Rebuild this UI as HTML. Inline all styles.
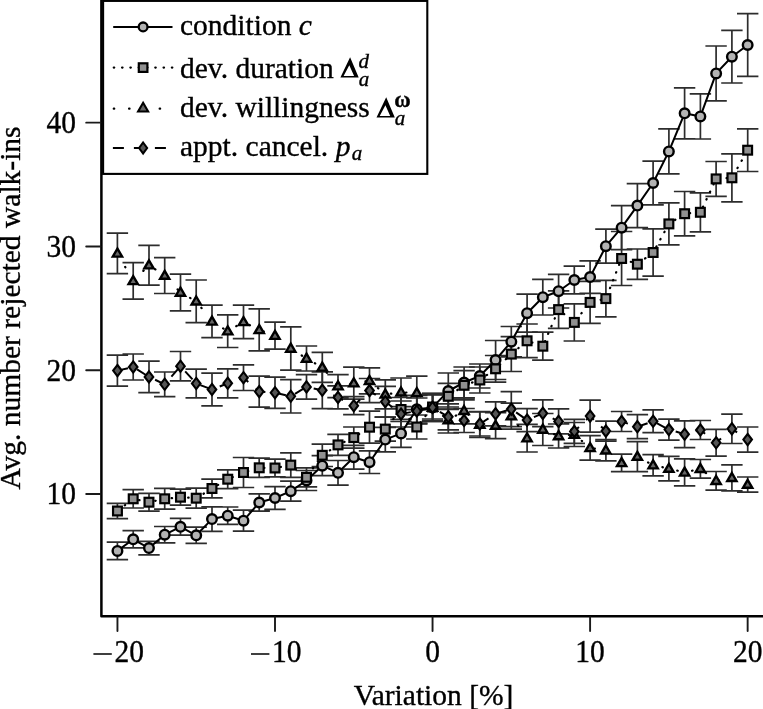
<!DOCTYPE html>
<html><head><meta charset="utf-8"><style>
html,body{margin:0;padding:0;background:#fff;}
svg{display:block;}
text{font-family:"Liberation Serif",serif;font-size:29.5px;fill:#000;stroke:#000;stroke-width:0.35px;}
</style></head><body>
<svg width="763" height="709" viewBox="0 0 763 709">
<defs><filter id="b" filterUnits="userSpaceOnUse" x="0" y="0" width="763" height="709" color-interpolation-filters="sRGB"><feGaussianBlur stdDeviation="0.5"/></filter></defs>
<rect width="763" height="709" fill="#fff"/>
<g filter="url(#b)">
<path d="M117.4 542.2V559.6M106.7 542.2H128.1M106.7 559.6H128.1M133.2 530.7V547.9M122.5 530.7H143.9M122.5 547.9H143.9M149.0 541.4V554.8M138.3 541.4H159.7M138.3 554.8H159.7M164.7 526.5V542.9M154.0 526.5H175.4M154.0 542.9H175.4M180.5 518.4V535.2M169.8 518.4H191.2M169.8 535.2H191.2M196.2 527.2V543.4M185.5 527.2H206.9M185.5 543.4H206.9M212.0 506.9V531.3M201.3 506.9H222.7M201.3 531.3H222.7M227.7 507.0V524.4M217.0 507.0H238.4M217.0 524.4H238.4M243.5 510.2V531.2M232.8 510.2H254.2M232.8 531.2H254.2M259.2 493.9V511.1M248.5 493.9H269.9M248.5 511.1H269.9M275.0 486.7V509.3M264.3 486.7H285.7M264.3 509.3H285.7M290.8 481.2V501.2M280.1 481.2H301.5M280.1 501.2H301.5M306.5 470.5V490.5M295.8 470.5H317.2M295.8 490.5H317.2M322.3 455.7V475.7M311.6 455.7H333.0M311.6 475.7H333.0M338.0 460.5V485.1M327.3 460.5H348.7M327.3 485.1H348.7M353.8 445.3V469.1M343.1 445.3H364.5M343.1 469.1H364.5M369.5 450.9V473.5M358.8 450.9H380.2M358.8 473.5H380.2M385.3 427.3V451.9M374.6 427.3H396.0M374.6 451.9H396.0M401.0 419.4V447.4M390.3 419.4H411.7M390.3 447.4H411.7M416.8 395.3V423.3M406.1 395.3H427.5M406.1 423.3H427.5M432.6 393.4V421.4M421.9 393.4H443.2M421.9 421.4H443.2M448.3 373.0V409.0M437.6 373.0H459.0M437.6 409.0H459.0M464.1 367.0V398.0M453.4 367.0H474.8M453.4 398.0H474.8M479.8 364.0V388.0M469.1 364.0H490.5M469.1 388.0H490.5M495.6 340.5V379.5M484.9 340.5H506.3M484.9 379.5H506.3M511.3 326.5V356.9M500.6 326.5H522.0M500.6 356.9H522.0M527.1 294.2V332.2M516.4 294.2H537.8M516.4 332.2H537.8M542.8 279.4V315.0M532.1 279.4H553.5M532.1 315.0H553.5M558.6 274.4V308.0M547.9 274.4H569.3M547.9 308.0H569.3M574.3 266.2V293.8M563.6 266.2H585.0M563.6 293.8H585.0M590.1 260.8V293.4M579.4 260.8H600.8M579.4 293.4H600.8M605.9 229.2V263.2M595.2 229.2H616.6M595.2 263.2H616.6M621.6 205.7V249.7M610.9 205.7H632.3M610.9 249.7H632.3M637.4 183.6V227.6M626.7 183.6H648.1M626.7 227.6H648.1M653.1 161.2V204.8M642.4 161.2H663.8M642.4 204.8H663.8M668.9 128.9V173.9M658.2 128.9H679.6M658.2 173.9H679.6M684.6 87.8V138.8M673.9 87.8H695.3M673.9 138.8H695.3M700.4 93.8V139.0M689.7 93.8H711.1M689.7 139.0H711.1M716.1 46.0V100.8M705.4 46.0H726.8M705.4 100.8H726.8M731.9 30.4V83.0M721.2 30.4H742.6M721.2 83.0H742.6M747.7 13.7V76.3M737.0 13.7H758.4M737.0 76.3H758.4" stroke="#2d2d2d" stroke-width="1.7" fill="none"/>
<path d="M117.4 503.4V518.6M106.7 503.4H128.1M106.7 518.6H128.1M133.2 489.6V508.0M122.5 489.6H143.9M122.5 508.0H143.9M149.0 493.3V511.1M138.3 493.3H159.7M138.3 511.1H159.7M164.7 488.4V509.2M154.0 488.4H175.4M154.0 509.2H175.4M180.5 489.2V505.2M169.8 489.2H191.2M169.8 505.2H191.2M196.2 488.2V508.2M185.5 488.2H206.9M185.5 508.2H206.9M212.0 479.1V497.9M201.3 479.1H222.7M201.3 497.9H222.7M227.7 469.8V488.6M217.0 469.8H238.4M217.0 488.6H238.4M243.5 457.5V487.5M232.8 457.5H254.2M232.8 487.5H254.2M259.2 458.2V477.4M248.5 458.2H269.9M248.5 477.4H269.9M275.0 459.1V476.9M264.3 459.1H285.7M264.3 476.9H285.7M290.8 452.8V477.4M280.1 452.8H301.5M280.1 477.4H301.5M306.5 467.8V486.8M295.8 467.8H317.2M295.8 486.8H317.2M322.3 444.1V466.5M311.6 444.1H333.0M311.6 466.5H333.0M338.0 434.4V455.4M327.3 434.4H348.7M327.3 455.4H348.7M353.8 427.0V448.2M343.1 427.0H364.5M343.1 448.2H364.5M369.5 411.2V443.2M358.8 411.2H380.2M358.8 443.2H380.2M385.3 417.1V441.1M374.6 417.1H396.0M374.6 441.1H396.0M401.0 397.5V421.5M390.3 397.5H411.7M390.3 421.5H411.7M416.8 415.0V439.0M406.1 415.0H427.5M406.1 439.0H427.5M432.6 395.0V419.0M421.9 395.0H443.2M421.9 419.0H443.2M448.3 383.3V409.3M437.6 383.3H459.0M437.6 409.3H459.0M464.1 370.7V399.9M453.4 370.7H474.8M453.4 399.9H474.8M479.8 367.0V393.0M469.1 367.0H490.5M469.1 393.0H490.5M495.6 355.5V382.1M484.9 355.5H506.3M484.9 382.1H506.3M511.3 336.7V371.5M500.6 336.7H522.0M500.6 371.5H522.0M527.1 324.0V357.6M516.4 324.0H537.8M516.4 357.6H537.8M542.8 332.2V360.2M532.1 332.2H553.5M532.1 360.2H553.5M558.6 290.9V328.3M547.9 290.9H569.3M547.9 328.3H569.3M574.3 303.8V341.0M563.6 303.8H585.0M563.6 341.0H585.0M590.1 281.4V323.4M579.4 281.4H600.8M579.4 323.4H600.8M605.9 280.4V316.8M595.2 280.4H616.6M595.2 316.8H616.6M621.6 231.5V285.5M610.9 231.5H632.3M610.9 285.5H632.3M637.4 249.0V279.4M626.7 249.0H648.1M626.7 279.4H648.1M653.1 228.9V276.1M642.4 228.9H663.8M642.4 276.1H663.8M668.9 202.9V244.9M658.2 202.9H679.6M658.2 244.9H679.6M684.6 191.5V235.9M673.9 191.5H695.3M673.9 235.9H695.3M700.4 192.8V231.8M689.7 192.8H711.1M689.7 231.8H711.1M716.1 161.5V196.3M705.4 161.5H726.8M705.4 196.3H726.8M731.9 153.8V201.8M721.2 153.8H742.6M721.2 201.8H742.6M747.7 128.9V171.5M737.0 128.9H758.4M737.0 171.5H758.4" stroke="#2d2d2d" stroke-width="1.7" fill="none"/>
<path d="M117.4 233.2V273.6M106.7 233.2H128.1M106.7 273.6H128.1M133.2 262.6V299.2M122.5 262.6H143.9M122.5 299.2H143.9M149.0 245.3V285.1M138.3 245.3H159.7M138.3 285.1H159.7M164.7 257.7V293.5M154.0 257.7H175.4M154.0 293.5H175.4M180.5 274.1V310.9M169.8 274.1H191.2M169.8 310.9H191.2M196.2 280.0V322.6M185.5 280.0H206.9M185.5 322.6H206.9M212.0 305.2V337.6M201.3 305.2H222.7M201.3 337.6H222.7M227.7 314.9V347.5M217.0 314.9H238.4M217.0 347.5H238.4M243.5 305.2V338.6M232.8 305.2H254.2M232.8 338.6H254.2M259.2 308.9V350.9M248.5 308.9H269.9M248.5 350.9H269.9M275.0 322.2V349.2M264.3 322.2H285.7M264.3 349.2H285.7M290.8 326.8V370.2M280.1 326.8H301.5M280.1 370.2H301.5M306.5 346.0V371.0M295.8 346.0H317.2M295.8 371.0H317.2M322.3 352.4V382.4M311.6 352.4H333.0M311.6 382.4H333.0M338.0 374.7V397.7M327.3 374.7H348.7M327.3 397.7H348.7M353.8 367.2V399.2M343.1 367.2H364.5M343.1 399.2H364.5M369.5 367.8V393.8M358.8 367.8H380.2M358.8 393.8H380.2M385.3 379.9V408.9M374.6 379.9H396.0M374.6 408.9H396.0M401.0 378.0V406.6M390.3 378.0H411.7M390.3 406.6H411.7M416.8 376.1V409.7M406.1 376.1H427.5M406.1 409.7H427.5M432.6 393.5V421.5M421.9 393.5H443.2M421.9 421.5H443.2M448.3 407.0V433.0M437.6 407.0H459.0M437.6 433.0H459.0M464.1 397.8V423.8M453.4 397.8H474.8M453.4 423.8H474.8M479.8 411.5V437.5M469.1 411.5H490.5M469.1 437.5H490.5M495.6 412.6V438.6M484.9 412.6H506.3M484.9 438.6H506.3M511.3 403.2V429.2M500.6 403.2H522.0M500.6 429.2H522.0M527.1 424.4V452.0M516.4 424.4H537.8M516.4 452.0H537.8M542.8 413.5V445.5M532.1 413.5H553.5M532.1 445.5H553.5M558.6 424.0V448.0M547.9 424.0H569.3M547.9 448.0H569.3M574.3 422.5V446.5M563.6 422.5H585.0M563.6 446.5H585.0M590.1 435.6V460.2M579.4 435.6H600.8M579.4 460.2H600.8M605.9 439.7V460.9M595.2 439.7H616.6M595.2 460.9H616.6M621.6 454.2V471.6M610.9 454.2H632.3M610.9 471.6H632.3M637.4 441.6V471.6M626.7 441.6H648.1M626.7 471.6H648.1M653.1 454.6V475.8M642.4 454.6H663.8M642.4 475.8H663.8M668.9 456.4V480.8M658.2 456.4H679.6M658.2 480.8H679.6M684.6 458.9V485.9M673.9 458.9H695.3M673.9 485.9H695.3M700.4 459.5V478.1M689.7 459.5H711.1M689.7 478.1H711.1M716.1 471.5V490.1M705.4 471.5H726.8M705.4 490.1H726.8M731.9 464.8V490.8M721.2 464.8H742.6M721.2 490.8H742.6M747.7 477.0V492.2M737.0 477.0H758.4M737.0 492.2H758.4" stroke="#2d2d2d" stroke-width="1.7" fill="none"/>
<path d="M117.4 355.1V386.1M106.7 355.1H128.1M106.7 386.1H128.1M133.2 354.0V380.0M122.5 354.0H143.9M122.5 380.0H143.9M149.0 361.1V392.7M138.3 361.1H159.7M138.3 392.7H159.7M164.7 372.0V396.6M154.0 372.0H175.4M154.0 396.6H175.4M180.5 351.5V380.9M169.8 351.5H191.2M169.8 380.9H191.2M196.2 369.2V397.8M185.5 369.2H206.9M185.5 397.8H206.9M212.0 373.1V405.9M201.3 373.1H222.7M201.3 405.9H222.7M227.7 368.8V397.8M217.0 368.8H238.4M217.0 397.8H238.4M243.5 364.9V390.5M232.8 364.9H254.2M232.8 390.5H254.2M259.2 376.1V407.1M248.5 376.1H269.9M248.5 407.1H269.9M275.0 377.1V408.3M264.3 377.1H285.7M264.3 408.3H285.7M290.8 379.6V413.0M280.1 379.6H301.5M280.1 413.0H301.5M306.5 374.7V399.1M295.8 374.7H317.2M295.8 399.1H317.2M322.3 371.9V408.7M311.6 371.9H333.0M311.6 408.7H333.0M338.0 385.9V408.9M327.3 385.9H348.7M327.3 408.9H348.7M353.8 396.7V414.7M343.1 396.7H364.5M343.1 414.7H364.5M369.5 378.5V402.7M358.8 378.5H380.2M358.8 402.7H380.2M385.3 386.4V417.0M374.6 386.4H396.0M374.6 417.0H396.0M401.0 401.0V427.0M390.3 401.0H411.7M390.3 427.0H411.7M416.8 398.0V424.0M406.1 398.0H427.5M406.1 424.0H427.5M432.6 394.5V420.5M421.9 394.5H443.2M421.9 420.5H443.2M448.3 403.8V429.8M437.6 403.8H459.0M437.6 429.8H459.0M464.1 408.5V432.5M453.4 408.5H474.8M453.4 432.5H474.8M479.8 412.0V436.0M469.1 412.0H490.5M469.1 436.0H490.5M495.6 401.8V425.8M484.9 401.8H506.3M484.9 425.8H506.3M511.3 391.6V426.6M500.6 391.6H522.0M500.6 426.6H522.0M527.1 408.6V431.6M516.4 408.6H537.8M516.4 431.6H537.8M542.8 399.9V426.7M532.1 399.9H553.5M532.1 426.7H553.5M558.6 408.9V433.9M547.9 408.9H569.3M547.9 433.9H569.3M574.3 419.4V443.4M563.6 419.4H585.0M563.6 443.4H585.0M590.1 400.1V432.1M579.4 400.1H600.8M579.4 432.1H600.8M605.9 421.1V441.1M595.2 421.1H616.6M595.2 441.1H616.6M621.6 411.5V431.5M610.9 411.5H632.3M610.9 431.5H632.3M637.4 414.7V438.7M626.7 414.7H648.1M626.7 438.7H648.1M653.1 409.9V432.7M642.4 409.9H663.8M642.4 432.7H663.8M668.9 419.1V440.1M658.2 419.1H679.6M658.2 440.1H679.6M684.6 420.8V447.6M673.9 420.8H695.3M673.9 447.6H695.3M700.4 420.5V439.5M689.7 420.5H711.1M689.7 439.5H711.1M716.1 429.4V456.2M705.4 429.4H726.8M705.4 456.2H726.8M731.9 414.1V443.5M721.2 414.1H742.6M721.2 443.5H742.6M747.7 427.0V452.2M737.0 427.0H758.4M737.0 452.2H758.4" stroke="#2d2d2d" stroke-width="1.7" fill="none"/>
<polyline points="117.4,550.9 133.2,539.3 149.0,548.1 164.7,534.7 180.5,526.8 196.2,535.3 212.0,519.1 227.7,515.7 243.5,520.7 259.2,502.5 275.0,498.0 290.8,491.2 306.5,480.5 322.3,465.7 338.0,472.8 353.8,457.2 369.5,462.2 385.3,439.6 401.0,433.4 416.8,409.3 432.6,407.4 448.3,391.0 464.1,382.5 479.8,376.0 495.6,360.0 511.3,341.7 527.1,313.2 542.8,297.2 558.6,291.2 574.3,280.0 590.1,277.1 605.9,246.2 621.6,227.7 637.4,205.6 653.1,183.0 668.9,151.4 684.6,113.3 700.4,116.4 716.1,73.4 731.9,56.7 747.7,45.0" fill="none" stroke="#000" stroke-width="2.0" stroke-linecap="butt" stroke-linejoin="round"/>
<circle cx="117.45" cy="550.90" r="4.8" fill="#b3b3b3" stroke="#000" stroke-width="2.4"/>
<circle cx="133.20" cy="539.30" r="4.8" fill="#b3b3b3" stroke="#000" stroke-width="2.4"/>
<circle cx="148.96" cy="548.10" r="4.8" fill="#b3b3b3" stroke="#000" stroke-width="2.4"/>
<circle cx="164.71" cy="534.70" r="4.8" fill="#b3b3b3" stroke="#000" stroke-width="2.4"/>
<circle cx="180.47" cy="526.80" r="4.8" fill="#b3b3b3" stroke="#000" stroke-width="2.4"/>
<circle cx="196.22" cy="535.30" r="4.8" fill="#b3b3b3" stroke="#000" stroke-width="2.4"/>
<circle cx="211.98" cy="519.10" r="4.8" fill="#b3b3b3" stroke="#000" stroke-width="2.4"/>
<circle cx="227.74" cy="515.70" r="4.8" fill="#b3b3b3" stroke="#000" stroke-width="2.4"/>
<circle cx="243.49" cy="520.70" r="4.8" fill="#b3b3b3" stroke="#000" stroke-width="2.4"/>
<circle cx="259.25" cy="502.50" r="4.8" fill="#b3b3b3" stroke="#000" stroke-width="2.4"/>
<circle cx="275.00" cy="498.00" r="4.8" fill="#b3b3b3" stroke="#000" stroke-width="2.4"/>
<circle cx="290.75" cy="491.20" r="4.8" fill="#b3b3b3" stroke="#000" stroke-width="2.4"/>
<circle cx="306.51" cy="480.50" r="4.8" fill="#b3b3b3" stroke="#000" stroke-width="2.4"/>
<circle cx="322.26" cy="465.70" r="4.8" fill="#b3b3b3" stroke="#000" stroke-width="2.4"/>
<circle cx="338.02" cy="472.80" r="4.8" fill="#b3b3b3" stroke="#000" stroke-width="2.4"/>
<circle cx="353.77" cy="457.20" r="4.8" fill="#b3b3b3" stroke="#000" stroke-width="2.4"/>
<circle cx="369.53" cy="462.20" r="4.8" fill="#b3b3b3" stroke="#000" stroke-width="2.4"/>
<circle cx="385.29" cy="439.60" r="4.8" fill="#b3b3b3" stroke="#000" stroke-width="2.4"/>
<circle cx="401.04" cy="433.40" r="4.8" fill="#b3b3b3" stroke="#000" stroke-width="2.4"/>
<circle cx="416.80" cy="409.30" r="4.8" fill="#b3b3b3" stroke="#000" stroke-width="2.4"/>
<circle cx="432.55" cy="407.40" r="4.8" fill="#b3b3b3" stroke="#000" stroke-width="2.4"/>
<circle cx="448.31" cy="391.00" r="4.8" fill="#b3b3b3" stroke="#000" stroke-width="2.4"/>
<circle cx="464.06" cy="382.50" r="4.8" fill="#b3b3b3" stroke="#000" stroke-width="2.4"/>
<circle cx="479.81" cy="376.00" r="4.8" fill="#b3b3b3" stroke="#000" stroke-width="2.4"/>
<circle cx="495.57" cy="360.00" r="4.8" fill="#b3b3b3" stroke="#000" stroke-width="2.4"/>
<circle cx="511.33" cy="341.70" r="4.8" fill="#b3b3b3" stroke="#000" stroke-width="2.4"/>
<circle cx="527.08" cy="313.20" r="4.8" fill="#b3b3b3" stroke="#000" stroke-width="2.4"/>
<circle cx="542.84" cy="297.20" r="4.8" fill="#b3b3b3" stroke="#000" stroke-width="2.4"/>
<circle cx="558.59" cy="291.20" r="4.8" fill="#b3b3b3" stroke="#000" stroke-width="2.4"/>
<circle cx="574.35" cy="280.00" r="4.8" fill="#b3b3b3" stroke="#000" stroke-width="2.4"/>
<circle cx="590.10" cy="277.10" r="4.8" fill="#b3b3b3" stroke="#000" stroke-width="2.4"/>
<circle cx="605.86" cy="246.20" r="4.8" fill="#b3b3b3" stroke="#000" stroke-width="2.4"/>
<circle cx="621.61" cy="227.70" r="4.8" fill="#b3b3b3" stroke="#000" stroke-width="2.4"/>
<circle cx="637.37" cy="205.60" r="4.8" fill="#b3b3b3" stroke="#000" stroke-width="2.4"/>
<circle cx="653.12" cy="183.00" r="4.8" fill="#b3b3b3" stroke="#000" stroke-width="2.4"/>
<circle cx="668.88" cy="151.40" r="4.8" fill="#b3b3b3" stroke="#000" stroke-width="2.4"/>
<circle cx="684.63" cy="113.30" r="4.8" fill="#b3b3b3" stroke="#000" stroke-width="2.4"/>
<circle cx="700.38" cy="116.40" r="4.8" fill="#b3b3b3" stroke="#000" stroke-width="2.4"/>
<circle cx="716.14" cy="73.40" r="4.8" fill="#b3b3b3" stroke="#000" stroke-width="2.4"/>
<circle cx="731.89" cy="56.70" r="4.8" fill="#b3b3b3" stroke="#000" stroke-width="2.4"/>
<circle cx="747.65" cy="45.00" r="4.8" fill="#b3b3b3" stroke="#000" stroke-width="2.4"/>
<polyline points="117.4,511.0 133.2,498.8 149.0,502.2 164.7,498.8 180.5,497.2 196.2,498.2 212.0,488.5 227.7,479.2 243.5,472.5 259.2,467.8 275.0,468.0 290.8,465.1 306.5,477.3 322.3,455.3 338.0,444.9 353.8,437.6 369.5,427.2 385.3,429.1 401.0,409.5 416.8,427.0 432.6,407.0 448.3,396.3 464.1,385.3 479.8,380.0 495.6,368.8 511.3,354.1 527.1,340.8 542.8,346.2 558.6,309.6 574.3,322.4 590.1,302.4 605.9,298.6 621.6,258.5 637.4,264.2 653.1,252.5 668.9,223.9 684.6,213.7 700.4,212.3 716.1,178.9 731.9,177.8 747.7,150.2" fill="none" stroke="#000" stroke-width="2.2" stroke-linecap="round" stroke-linejoin="round" stroke-dasharray="0.5 7.81" stroke-dashoffset="7.36"/>
<rect x="113.05" y="506.60" width="8.8" height="8.8" fill="#909090" stroke="#000" stroke-width="2.2"/>
<rect x="128.80" y="494.40" width="8.8" height="8.8" fill="#909090" stroke="#000" stroke-width="2.2"/>
<rect x="144.56" y="497.80" width="8.8" height="8.8" fill="#909090" stroke="#000" stroke-width="2.2"/>
<rect x="160.31" y="494.40" width="8.8" height="8.8" fill="#909090" stroke="#000" stroke-width="2.2"/>
<rect x="176.07" y="492.80" width="8.8" height="8.8" fill="#909090" stroke="#000" stroke-width="2.2"/>
<rect x="191.82" y="493.80" width="8.8" height="8.8" fill="#909090" stroke="#000" stroke-width="2.2"/>
<rect x="207.58" y="484.10" width="8.8" height="8.8" fill="#909090" stroke="#000" stroke-width="2.2"/>
<rect x="223.34" y="474.80" width="8.8" height="8.8" fill="#909090" stroke="#000" stroke-width="2.2"/>
<rect x="239.09" y="468.10" width="8.8" height="8.8" fill="#909090" stroke="#000" stroke-width="2.2"/>
<rect x="254.84" y="463.40" width="8.8" height="8.8" fill="#909090" stroke="#000" stroke-width="2.2"/>
<rect x="270.60" y="463.60" width="8.8" height="8.8" fill="#909090" stroke="#000" stroke-width="2.2"/>
<rect x="286.36" y="460.70" width="8.8" height="8.8" fill="#909090" stroke="#000" stroke-width="2.2"/>
<rect x="302.11" y="472.90" width="8.8" height="8.8" fill="#909090" stroke="#000" stroke-width="2.2"/>
<rect x="317.87" y="450.90" width="8.8" height="8.8" fill="#909090" stroke="#000" stroke-width="2.2"/>
<rect x="333.62" y="440.50" width="8.8" height="8.8" fill="#909090" stroke="#000" stroke-width="2.2"/>
<rect x="349.38" y="433.20" width="8.8" height="8.8" fill="#909090" stroke="#000" stroke-width="2.2"/>
<rect x="365.13" y="422.80" width="8.8" height="8.8" fill="#909090" stroke="#000" stroke-width="2.2"/>
<rect x="380.89" y="424.70" width="8.8" height="8.8" fill="#909090" stroke="#000" stroke-width="2.2"/>
<rect x="396.64" y="405.10" width="8.8" height="8.8" fill="#909090" stroke="#000" stroke-width="2.2"/>
<rect x="412.40" y="422.60" width="8.8" height="8.8" fill="#909090" stroke="#000" stroke-width="2.2"/>
<rect x="428.15" y="402.60" width="8.8" height="8.8" fill="#909090" stroke="#000" stroke-width="2.2"/>
<rect x="443.91" y="391.90" width="8.8" height="8.8" fill="#909090" stroke="#000" stroke-width="2.2"/>
<rect x="459.66" y="380.90" width="8.8" height="8.8" fill="#909090" stroke="#000" stroke-width="2.2"/>
<rect x="475.42" y="375.60" width="8.8" height="8.8" fill="#909090" stroke="#000" stroke-width="2.2"/>
<rect x="491.17" y="364.40" width="8.8" height="8.8" fill="#909090" stroke="#000" stroke-width="2.2"/>
<rect x="506.93" y="349.70" width="8.8" height="8.8" fill="#909090" stroke="#000" stroke-width="2.2"/>
<rect x="522.68" y="336.40" width="8.8" height="8.8" fill="#909090" stroke="#000" stroke-width="2.2"/>
<rect x="538.44" y="341.80" width="8.8" height="8.8" fill="#909090" stroke="#000" stroke-width="2.2"/>
<rect x="554.19" y="305.20" width="8.8" height="8.8" fill="#909090" stroke="#000" stroke-width="2.2"/>
<rect x="569.95" y="318.00" width="8.8" height="8.8" fill="#909090" stroke="#000" stroke-width="2.2"/>
<rect x="585.70" y="298.00" width="8.8" height="8.8" fill="#909090" stroke="#000" stroke-width="2.2"/>
<rect x="601.46" y="294.20" width="8.8" height="8.8" fill="#909090" stroke="#000" stroke-width="2.2"/>
<rect x="617.21" y="254.10" width="8.8" height="8.8" fill="#909090" stroke="#000" stroke-width="2.2"/>
<rect x="632.97" y="259.80" width="8.8" height="8.8" fill="#909090" stroke="#000" stroke-width="2.2"/>
<rect x="648.72" y="248.10" width="8.8" height="8.8" fill="#909090" stroke="#000" stroke-width="2.2"/>
<rect x="664.48" y="219.50" width="8.8" height="8.8" fill="#909090" stroke="#000" stroke-width="2.2"/>
<rect x="680.23" y="209.30" width="8.8" height="8.8" fill="#909090" stroke="#000" stroke-width="2.2"/>
<rect x="695.99" y="207.90" width="8.8" height="8.8" fill="#909090" stroke="#000" stroke-width="2.2"/>
<rect x="711.74" y="174.50" width="8.8" height="8.8" fill="#909090" stroke="#000" stroke-width="2.2"/>
<rect x="727.50" y="173.40" width="8.8" height="8.8" fill="#909090" stroke="#000" stroke-width="2.2"/>
<rect x="743.25" y="145.80" width="8.8" height="8.8" fill="#909090" stroke="#000" stroke-width="2.2"/>
<polyline points="117.4,253.4 133.2,280.9 149.0,265.2 164.7,275.6 180.5,292.5 196.2,301.3 212.0,321.4 227.7,331.2 243.5,321.9 259.2,329.9 275.0,335.7 290.8,348.5 306.5,358.5 322.3,367.4 338.0,386.2 353.8,383.2 369.5,380.8 385.3,394.4 401.0,392.3 416.8,392.9 432.6,407.5 448.3,420.0 464.1,410.8 479.8,424.5 495.6,425.6 511.3,416.2 527.1,438.2 542.8,429.5 558.6,436.0 574.3,434.5 590.1,447.9 605.9,450.3 621.6,462.9 637.4,456.6 653.1,465.2 668.9,468.6 684.6,472.4 700.4,468.8 716.1,480.8 731.9,477.8 747.7,484.6" fill="none" stroke="#000" stroke-width="2.2" stroke-linecap="round" stroke-linejoin="round" stroke-dasharray="0.5 14.74" stroke-dashoffset="14.99"/>
<path d="M117.45 248.60L122.10 256.60H112.80Z" fill="#666" stroke="#000" stroke-width="2.4" stroke-linejoin="miter"/>
<path d="M133.20 276.10L137.85 284.10H128.55Z" fill="#666" stroke="#000" stroke-width="2.4" stroke-linejoin="miter"/>
<path d="M148.96 260.40L153.61 268.40H144.31Z" fill="#666" stroke="#000" stroke-width="2.4" stroke-linejoin="miter"/>
<path d="M164.71 270.80L169.36 278.80H160.06Z" fill="#666" stroke="#000" stroke-width="2.4" stroke-linejoin="miter"/>
<path d="M180.47 287.70L185.12 295.70H175.82Z" fill="#666" stroke="#000" stroke-width="2.4" stroke-linejoin="miter"/>
<path d="M196.22 296.50L200.88 304.50H191.57Z" fill="#666" stroke="#000" stroke-width="2.4" stroke-linejoin="miter"/>
<path d="M211.98 316.60L216.63 324.60H207.33Z" fill="#666" stroke="#000" stroke-width="2.4" stroke-linejoin="miter"/>
<path d="M227.74 326.40L232.39 334.40H223.09Z" fill="#666" stroke="#000" stroke-width="2.4" stroke-linejoin="miter"/>
<path d="M243.49 317.10L248.14 325.10H238.84Z" fill="#666" stroke="#000" stroke-width="2.4" stroke-linejoin="miter"/>
<path d="M259.25 325.10L263.89 333.10H254.59Z" fill="#666" stroke="#000" stroke-width="2.4" stroke-linejoin="miter"/>
<path d="M275.00 330.90L279.65 338.90H270.35Z" fill="#666" stroke="#000" stroke-width="2.4" stroke-linejoin="miter"/>
<path d="M290.75 343.70L295.40 351.70H286.11Z" fill="#666" stroke="#000" stroke-width="2.4" stroke-linejoin="miter"/>
<path d="M306.51 353.70L311.16 361.70H301.86Z" fill="#666" stroke="#000" stroke-width="2.4" stroke-linejoin="miter"/>
<path d="M322.26 362.60L326.91 370.60H317.62Z" fill="#666" stroke="#000" stroke-width="2.4" stroke-linejoin="miter"/>
<path d="M338.02 381.40L342.67 389.40H333.37Z" fill="#666" stroke="#000" stroke-width="2.4" stroke-linejoin="miter"/>
<path d="M353.77 378.40L358.42 386.40H349.12Z" fill="#666" stroke="#000" stroke-width="2.4" stroke-linejoin="miter"/>
<path d="M369.53 376.00L374.18 384.00H364.88Z" fill="#666" stroke="#000" stroke-width="2.4" stroke-linejoin="miter"/>
<path d="M385.29 389.60L389.94 397.60H380.64Z" fill="#666" stroke="#000" stroke-width="2.4" stroke-linejoin="miter"/>
<path d="M401.04 387.50L405.69 395.50H396.39Z" fill="#666" stroke="#000" stroke-width="2.4" stroke-linejoin="miter"/>
<path d="M416.80 388.10L421.44 396.10H412.15Z" fill="#666" stroke="#000" stroke-width="2.4" stroke-linejoin="miter"/>
<path d="M432.55 402.70L437.20 410.70H427.90Z" fill="#666" stroke="#000" stroke-width="2.4" stroke-linejoin="miter"/>
<path d="M448.31 415.20L452.95 423.20H443.66Z" fill="#666" stroke="#000" stroke-width="2.4" stroke-linejoin="miter"/>
<path d="M464.06 406.00L468.71 414.00H459.41Z" fill="#666" stroke="#000" stroke-width="2.4" stroke-linejoin="miter"/>
<path d="M479.81 419.70L484.46 427.70H475.17Z" fill="#666" stroke="#000" stroke-width="2.4" stroke-linejoin="miter"/>
<path d="M495.57 420.80L500.22 428.80H490.92Z" fill="#666" stroke="#000" stroke-width="2.4" stroke-linejoin="miter"/>
<path d="M511.33 411.40L515.98 419.40H506.68Z" fill="#666" stroke="#000" stroke-width="2.4" stroke-linejoin="miter"/>
<path d="M527.08 433.40L531.73 441.40H522.43Z" fill="#666" stroke="#000" stroke-width="2.4" stroke-linejoin="miter"/>
<path d="M542.84 424.70L547.49 432.70H538.19Z" fill="#666" stroke="#000" stroke-width="2.4" stroke-linejoin="miter"/>
<path d="M558.59 431.20L563.24 439.20H553.94Z" fill="#666" stroke="#000" stroke-width="2.4" stroke-linejoin="miter"/>
<path d="M574.35 429.70L579.00 437.70H569.70Z" fill="#666" stroke="#000" stroke-width="2.4" stroke-linejoin="miter"/>
<path d="M590.10 443.10L594.75 451.10H585.45Z" fill="#666" stroke="#000" stroke-width="2.4" stroke-linejoin="miter"/>
<path d="M605.86 445.50L610.50 453.50H601.21Z" fill="#666" stroke="#000" stroke-width="2.4" stroke-linejoin="miter"/>
<path d="M621.61 458.10L626.26 466.10H616.96Z" fill="#666" stroke="#000" stroke-width="2.4" stroke-linejoin="miter"/>
<path d="M637.37 451.80L642.01 459.80H632.72Z" fill="#666" stroke="#000" stroke-width="2.4" stroke-linejoin="miter"/>
<path d="M653.12 460.40L657.77 468.40H648.47Z" fill="#666" stroke="#000" stroke-width="2.4" stroke-linejoin="miter"/>
<path d="M668.88 463.80L673.52 471.80H664.23Z" fill="#666" stroke="#000" stroke-width="2.4" stroke-linejoin="miter"/>
<path d="M684.63 467.60L689.28 475.60H679.98Z" fill="#666" stroke="#000" stroke-width="2.4" stroke-linejoin="miter"/>
<path d="M700.38 464.00L705.03 472.00H695.74Z" fill="#666" stroke="#000" stroke-width="2.4" stroke-linejoin="miter"/>
<path d="M716.14 476.00L720.79 484.00H711.49Z" fill="#666" stroke="#000" stroke-width="2.4" stroke-linejoin="miter"/>
<path d="M731.89 473.00L736.54 481.00H727.25Z" fill="#666" stroke="#000" stroke-width="2.4" stroke-linejoin="miter"/>
<path d="M747.65 479.80L752.30 487.80H743.00Z" fill="#666" stroke="#000" stroke-width="2.4" stroke-linejoin="miter"/>
<polyline points="117.4,370.6 133.2,367.0 149.0,376.9 164.7,384.3 180.5,366.2 196.2,383.5 212.0,389.5 227.7,383.3 243.5,377.7 259.2,391.6 275.0,392.7 290.8,396.3 306.5,386.9 322.3,390.3 338.0,397.4 353.8,405.7 369.5,390.6 385.3,401.7 401.0,414.0 416.8,411.0 432.6,407.5 448.3,416.8 464.1,420.5 479.8,424.0 495.6,413.8 511.3,409.1 527.1,420.1 542.8,413.3 558.6,421.4 574.3,431.4 590.1,416.1 605.9,431.1 621.6,421.5 637.4,426.7 653.1,421.3 668.9,429.6 684.6,434.2 700.4,430.0 716.1,442.8 731.9,428.8 747.7,439.6" fill="none" stroke="#000" stroke-width="2.0" stroke-linecap="butt" stroke-linejoin="round" stroke-dasharray="10.9 9.9" stroke-dashoffset="0"/>
<path d="M117.45 365.00L121.75 370.60L117.45 376.20L113.15 370.60Z" fill="#555" stroke="#000" stroke-width="2.1"/>
<path d="M133.20 361.40L137.50 367.00L133.20 372.60L128.90 367.00Z" fill="#555" stroke="#000" stroke-width="2.1"/>
<path d="M148.96 371.30L153.26 376.90L148.96 382.50L144.66 376.90Z" fill="#555" stroke="#000" stroke-width="2.1"/>
<path d="M164.71 378.70L169.01 384.30L164.71 389.90L160.41 384.30Z" fill="#555" stroke="#000" stroke-width="2.1"/>
<path d="M180.47 360.60L184.77 366.20L180.47 371.80L176.17 366.20Z" fill="#555" stroke="#000" stroke-width="2.1"/>
<path d="M196.22 377.90L200.53 383.50L196.22 389.10L191.92 383.50Z" fill="#555" stroke="#000" stroke-width="2.1"/>
<path d="M211.98 383.90L216.28 389.50L211.98 395.10L207.68 389.50Z" fill="#555" stroke="#000" stroke-width="2.1"/>
<path d="M227.74 377.70L232.04 383.30L227.74 388.90L223.44 383.30Z" fill="#555" stroke="#000" stroke-width="2.1"/>
<path d="M243.49 372.10L247.79 377.70L243.49 383.30L239.19 377.70Z" fill="#555" stroke="#000" stroke-width="2.1"/>
<path d="M259.25 386.00L263.55 391.60L259.25 397.20L254.94 391.60Z" fill="#555" stroke="#000" stroke-width="2.1"/>
<path d="M275.00 387.10L279.30 392.70L275.00 398.30L270.70 392.70Z" fill="#555" stroke="#000" stroke-width="2.1"/>
<path d="M290.75 390.70L295.06 396.30L290.75 401.90L286.45 396.30Z" fill="#555" stroke="#000" stroke-width="2.1"/>
<path d="M306.51 381.30L310.81 386.90L306.51 392.50L302.21 386.90Z" fill="#555" stroke="#000" stroke-width="2.1"/>
<path d="M322.26 384.70L326.56 390.30L322.26 395.90L317.96 390.30Z" fill="#555" stroke="#000" stroke-width="2.1"/>
<path d="M338.02 391.80L342.32 397.40L338.02 403.00L333.72 397.40Z" fill="#555" stroke="#000" stroke-width="2.1"/>
<path d="M353.77 400.10L358.07 405.70L353.77 411.30L349.47 405.70Z" fill="#555" stroke="#000" stroke-width="2.1"/>
<path d="M369.53 385.00L373.83 390.60L369.53 396.20L365.23 390.60Z" fill="#555" stroke="#000" stroke-width="2.1"/>
<path d="M385.29 396.10L389.59 401.70L385.29 407.30L380.99 401.70Z" fill="#555" stroke="#000" stroke-width="2.1"/>
<path d="M401.04 408.40L405.34 414.00L401.04 419.60L396.74 414.00Z" fill="#555" stroke="#000" stroke-width="2.1"/>
<path d="M416.80 405.40L421.10 411.00L416.80 416.60L412.50 411.00Z" fill="#555" stroke="#000" stroke-width="2.1"/>
<path d="M432.55 401.90L436.85 407.50L432.55 413.10L428.25 407.50Z" fill="#555" stroke="#000" stroke-width="2.1"/>
<path d="M448.31 411.20L452.61 416.80L448.31 422.40L444.00 416.80Z" fill="#555" stroke="#000" stroke-width="2.1"/>
<path d="M464.06 414.90L468.36 420.50L464.06 426.10L459.76 420.50Z" fill="#555" stroke="#000" stroke-width="2.1"/>
<path d="M479.81 418.40L484.12 424.00L479.81 429.60L475.51 424.00Z" fill="#555" stroke="#000" stroke-width="2.1"/>
<path d="M495.57 408.20L499.87 413.80L495.57 419.40L491.27 413.80Z" fill="#555" stroke="#000" stroke-width="2.1"/>
<path d="M511.33 403.50L515.62 409.10L511.33 414.70L507.03 409.10Z" fill="#555" stroke="#000" stroke-width="2.1"/>
<path d="M527.08 414.50L531.38 420.10L527.08 425.70L522.78 420.10Z" fill="#555" stroke="#000" stroke-width="2.1"/>
<path d="M542.84 407.70L547.13 413.30L542.84 418.90L538.54 413.30Z" fill="#555" stroke="#000" stroke-width="2.1"/>
<path d="M558.59 415.80L562.89 421.40L558.59 427.00L554.29 421.40Z" fill="#555" stroke="#000" stroke-width="2.1"/>
<path d="M574.35 425.80L578.64 431.40L574.35 437.00L570.05 431.40Z" fill="#555" stroke="#000" stroke-width="2.1"/>
<path d="M590.10 410.50L594.40 416.10L590.10 421.70L585.80 416.10Z" fill="#555" stroke="#000" stroke-width="2.1"/>
<path d="M605.86 425.50L610.15 431.10L605.86 436.70L601.56 431.10Z" fill="#555" stroke="#000" stroke-width="2.1"/>
<path d="M621.61 415.90L625.91 421.50L621.61 427.10L617.31 421.50Z" fill="#555" stroke="#000" stroke-width="2.1"/>
<path d="M637.37 421.10L641.66 426.70L637.37 432.30L633.07 426.70Z" fill="#555" stroke="#000" stroke-width="2.1"/>
<path d="M653.12 415.70L657.42 421.30L653.12 426.90L648.82 421.30Z" fill="#555" stroke="#000" stroke-width="2.1"/>
<path d="M668.88 424.00L673.17 429.60L668.88 435.20L664.58 429.60Z" fill="#555" stroke="#000" stroke-width="2.1"/>
<path d="M684.63 428.60L688.93 434.20L684.63 439.80L680.33 434.20Z" fill="#555" stroke="#000" stroke-width="2.1"/>
<path d="M700.38 424.40L704.68 430.00L700.38 435.60L696.09 430.00Z" fill="#555" stroke="#000" stroke-width="2.1"/>
<path d="M716.14 437.20L720.44 442.80L716.14 448.40L711.84 442.80Z" fill="#555" stroke="#000" stroke-width="2.1"/>
<path d="M731.89 423.20L736.19 428.80L731.89 434.40L727.60 428.80Z" fill="#555" stroke="#000" stroke-width="2.1"/>
<path d="M747.65 434.00L751.95 439.60L747.65 445.20L743.35 439.60Z" fill="#555" stroke="#000" stroke-width="2.1"/>
<path d="M101.4 0V616.3H763" stroke="#000" stroke-width="2.5" fill="none" stroke-linejoin="round"/><path d="M86.2 494.05H100.5M86.2 370.25H100.5M86.2 246.45H100.5M86.2 122.65H100.5M117.45 617.3V631M275.00 617.3V631M432.55 617.3V631M590.10 617.3V631M747.65 617.3V631" stroke="#1a1a1a" stroke-width="1.9" fill="none" stroke-linecap="round"/>
<text transform="translate(76.00 504.35) scale(1 1.055)" text-anchor="end">10</text><text transform="translate(76.00 380.55) scale(1 1.055)" text-anchor="end">20</text><text transform="translate(76.00 256.75) scale(1 1.055)" text-anchor="end">30</text><text transform="translate(76.00 132.95) scale(1 1.055)" text-anchor="end">40</text><text transform="translate(129.25 662.00) scale(1 1.055)" text-anchor="middle">20</text><text transform="translate(286.80 662.00) scale(1 1.055)" text-anchor="middle">10</text><text transform="translate(432.55 662.00) scale(1 1.055)" text-anchor="middle">0</text><text transform="translate(590.10 662.00) scale(1 1.055)" text-anchor="middle">10</text><text transform="translate(747.65 662.00) scale(1 1.055)" text-anchor="middle">20</text><path d="M93.4 653.9H111.8M251.0 653.9H269.4" stroke="#000" stroke-width="1.5"/><text transform="translate(433.50 704.60) scale(1 1.0)" text-anchor="middle">Variation [%]</text><text transform="translate(19.6 308) rotate(-90) scale(1 1.0)" text-anchor="middle">Avg. number rejected walk-ins</text>
<rect x="103.1" y="0.9" width="324.2" height="173.0" fill="#fff" stroke="#000" stroke-width="2.1"/><path d="M113.2 26.9H172.5" stroke="#000" stroke-width="2"/><path d="M113.2 67.6H172.5" stroke="#000" stroke-width="2.2" stroke-linecap="round" stroke-dasharray="0.5 7.8" stroke-dashoffset="-0.55"/><path d="M113.2 108.7H172.5" stroke="#000" stroke-width="2.2" stroke-linecap="round" stroke-dasharray="0.5 14.8" stroke-dashoffset="-0.55"/><path d="M112.9 148.0H166.5" stroke="#000" stroke-width="2" stroke-dasharray="11 10"/><circle cx="143.10" cy="26.90" r="4.4" fill="#b3b3b3" stroke="#000" stroke-width="2.3"/><rect x="138.80" y="63.30" width="8.6" height="8.6" fill="#909090" stroke="#000" stroke-width="2.2"/><path d="M143.10 102.84L148.10 111.44H138.10Z" fill="#666" stroke="#000" stroke-width="2.1" stroke-linejoin="miter"/><path d="M143.10 142.50L147.10 148.00L143.10 153.50L139.10 148.00Z" fill="#555" stroke="#000" stroke-width="2.1"/><text transform="translate(180.00 34.90) scale(1 1.0)">condition <tspan font-style="italic">c</tspan></text><text transform="translate(180.00 77.70) scale(1 1.0)">dev. duration</text><path d="M340.40 77.50L350.10 57.20L358.70 77.50ZM343.60 75.90L354.10 75.90L349.30 65.30Z" fill="#000" fill-rule="evenodd"/><text transform="translate(358.60 67.60) scale(1 1.0)" style="font-style:italic;font-size:21px">d</text><text transform="translate(358.70 86.20) scale(1 1.0)" style="font-style:italic;font-size:21px">a</text><text transform="translate(180.00 117.00) scale(1 1.0)">dev. willingness</text><path d="M376.50 117.50L386.20 97.20L394.80 117.50ZM379.70 115.90L390.20 115.90L385.40 105.30Z" fill="#000" fill-rule="evenodd"/><text transform="translate(394.20 106.60) scale(1 1.0)" style="font-weight:bold;font-size:22.5px">ω</text><text transform="translate(394.70 125.30) scale(1 1.0)" style="font-style:italic;font-size:21px">a</text><text transform="translate(180.00 155.60) scale(1 1.0)">appt. cancel. <tspan font-style="italic">p</tspan></text><text transform="translate(351.80 160.20) scale(1 1.0)" style="font-style:italic;font-size:21px">a</text>
</g>
</svg>
</body></html>
